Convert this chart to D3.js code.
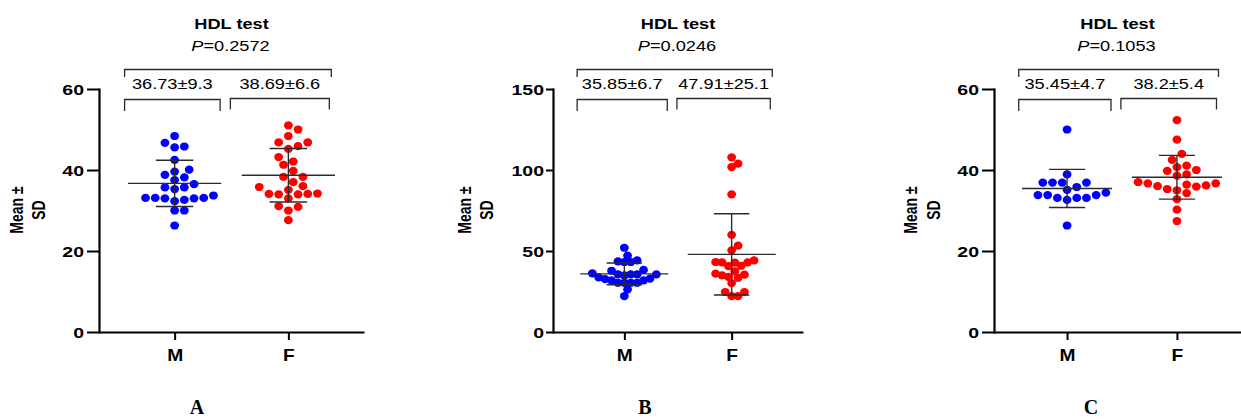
<!DOCTYPE html>
<html><head><meta charset="utf-8">
<script src="https://cdn.jsdelivr.net/npm/d3@7"></script>
<style>
html,body{margin:0;padding:0;background:#fff;}
svg{display:block;}
</style>
</head><body>
<svg id="c" width="1241" height="419"></svg>
<script>
// ---------------- data ----------------
const categories = ["M", "F"];
const panelLetters = ["A", "B", "C"];
const chartTitle = "HDL test";
const yLabelLines = ["Mean ±", "SD"];
const pValues = ["0.2572", "0.0246", "0.1053"];
const groupLabelsA = ["36.73±9.3", "38.69±6.6"];
const groupLabelsB = ["35.85±6.7", "47.91±25.1"];
const groupLabelsC = ["35.45±4.7", "38.2±5.4"];
const yTicksA = [0, 20, 40, 60];
const yTicksB = [0, 50, 100, 150];
const yTicksC = [0, 20, 40, 60];
const yMaxA = 60, yMaxB = 150, yMaxC = 60;

const valuesA_M = [48.4, 46.7, 45.8, 45.6, 42.5, 40.1, 39.6, 38.8, 38.2, 37.5, 36.5, 35.7, 35.3, 35.7, 33.7, 33.1, 33.0, 33.1, 33.0, 33.1, 32.3, 32.6, 30.0, 30.0, 26.3];
const valuesA_F = [51.0, 50.0, 48.4, 46.8, 46.8, 45.2, 45.9, 43.2, 42.1, 41.3, 39.8, 38.3, 38.3, 37.0, 36.0, 35.1, 35.8, 34.2, 34.1, 34.1, 34.0, 34.0, 33.0, 30.9, 31.1, 30.0, 27.6];
const valuesB_M = [52.0, 47.1, 44.2, 43.6, 43.2, 43.2, 38.3, 37.8, 35.6, 35.6, 35.6, 35.6, 36.2, 35.0, 32.7, 31.9, 33.7, 31.9, 32.9, 30.4, 30.4, 30.4, 30.4, 26.3, 22.2];
const valuesB_F = [107.8, 103.9, 101.8, 85.0, 60.0, 53.3, 50.4, 44.2, 43.0, 40.9, 43.2, 40.7, 43.0, 42.8, 37.5, 34.0, 35.0, 33.5, 35.4, 36.0, 30.2, 24.7, 24.7, 22.2, 22.2];
const valuesC_M = [50.0, 38.9, 36.9, 36.9, 36.9, 36.9, 35.8, 35.1, 34.4, 33.8, 33.8, 33.1, 33.1, 32.6, 33.1, 33.8, 26.3];
const valuesC_F = [52.3, 47.5, 44.0, 42.5, 40.0, 39.8, 41.1, 40.7, 38.9, 38.6, 36.7, 36.2, 36.4, 36.7, 37.0, 35.9, 36.0, 34.3, 35.3, 35.0, 32.8, 30.2, 27.4];

// mean and SD as drawn by the error bars
const barMeanA = [36.7, 38.7], barSDA = [5.7, 6.6];
const barMeanB = [35.85, 47.9], barSDB = [6.7, 25.1];
const barMeanC = [35.45, 38.2], barSDC = [4.7, 5.4];

const colors = ["#0000ff", "#ff0000"];

// ---------------- layout ----------------
const layout = [
  {x0: 99, x1: 364, tick: 12, gap: 3, ylx: [-81, -59], h: 4.85, Dx: 9.4, Dy: 8.2, letterX: 197},
  {x0: 553, x1: 803, tick: 7, gap: 2, ylx: [-87, -65], h: 3.2, Dx: 6.3, Dy: 7.0, letterX: 645},
  {x0: 994, x1: 1250, tick: 12, gap: 3, ylx: [-82, -59], h: 4.85, Dx: 9.4, Dy: 8.2, letterX: 1091}
];
const panels = [
  {vals: [valuesA_M, valuesA_F], means: barMeanA, sds: barSDA, labels: groupLabelsA, ticks: yTicksA, yMax: yMaxA},
  {vals: [valuesB_M, valuesB_F], means: barMeanB, sds: barSDB, labels: groupLabelsB, ticks: yTicksB, yMax: yMaxB},
  {vals: [valuesC_M, valuesC_F], means: barMeanC, sds: barSDC, labels: groupLabelsC, ticks: yTicksC, yMax: yMaxC}
];
const yTop = 89, yBot = 332, SX = 1.3;
const FONT = "'Liberation Sans', Arial, Helvetica, sans-serif";
const LINE = "#2b2b2b";

const svg = d3.select("#c");

function stext(g, x, y, str, size, weight, sx, anchor) {
  return g.append("text")
    .attr("transform", `translate(${x},${y}) scale(${sx},1)`)
    .attr("text-anchor", anchor || "middle")
    .attr("font-family", FONT)
    .attr("font-size", size)
    .attr("font-weight", weight)
    .attr("fill", "#000")
    .text(str);
}

function swarm(values, cx, y, h, Dx, Dy) {
  const order = values.map((v, i) => i).sort((a, b) => values[a] - values[b]);
  const placed = [];
  const xs = new Array(values.length);
  for (const i of order) {
    const py = y(values[i]);
    for (let k = 0; k < 400; k++) {
      const off = k === 0 ? 0 : (k % 2 ? Math.ceil(k / 2) : -Math.ceil(k / 2)) * h;
      const px = cx + off;
      if (placed.every(p => ((p.x - px) / Dx) ** 2 + ((p.y - py) / Dy) ** 2 >= 1)) {
        xs[i] = px; placed.push({x: px, y: py}); break;
      }
    }
  }
  return xs;
}

panels.forEach((P, pi) => {
  const L = layout[pi];
  const g = svg.append("g");
  const y = d3.scaleLinear().domain([0, P.yMax]).range([yBot, yTop]);
  const x = d3.scalePoint().domain(categories).range([L.x0, L.x1]).padding(0.665);
  const s = x.step();

  // y axis
  const ya = g.append("g").attr("transform", `translate(${L.x0},0)`)
    .call(d3.axisLeft(y).tickValues(P.ticks).tickSize(L.tick).tickSizeOuter(0).tickFormat(d3.format("d")));
  ya.select(".domain").attr("stroke", "#000").attr("stroke-width", 2.2).attr("stroke-linecap", "square");
  ya.selectAll(".tick line").attr("stroke", "#000").attr("stroke-width", 2);
  ya.selectAll(".tick text")
    .attr("x", 0).attr("dy", "0.36em")
    .attr("transform", `translate(${-(L.tick + L.gap)},0) scale(${SX},1)`)
    .attr("font-family", FONT).attr("font-size", 15).attr("font-weight", "bold").attr("fill", "#000");

  // x axis
  const xa = g.append("g").attr("transform", `translate(0,${yBot})`)
    .call(d3.axisBottom(x).tickSize(8).tickSizeOuter(0));
  xa.select(".domain").attr("stroke", "#000").attr("stroke-width", 2.2);
  xa.selectAll(".tick line").attr("stroke", "#000").attr("stroke-width", 2);
  xa.selectAll(".tick text")
    .attr("y", 0).attr("dy", null)
    .attr("transform", `translate(0,29) scale(1.2,1)`)
    .attr("font-family", FONT).attr("font-size", 16).attr("font-weight", "bold").attr("fill", "#000");

  // points
  categories.forEach((c, ci) => {
    const vals = P.vals[ci];
    const xs = swarm(vals, x(c), y, L.h, L.Dx, L.Dy);
    g.append("g").selectAll("ellipse").data(vals).join("ellipse")
      .attr("cx", (d, i) => xs[i]).attr("cy", d => y(d))
      .attr("rx", 4.4).attr("ry", 4.1).attr("fill", colors[ci]);
  });

  // mean & SD
  categories.forEach((c, ci) => {
    const cx = x(c), m = P.means[ci], sd = P.sds[ci];
    const eg = g.append("g").attr("stroke", LINE).attr("stroke-width", 1.4).attr("fill", "none");
    eg.append("line").attr("x1", cx).attr("x2", cx).attr("y1", y(m - sd)).attr("y2", y(m + sd));
    eg.append("line").attr("x1", cx - 0.165 * s).attr("x2", cx + 0.165 * s).attr("y1", y(m + sd)).attr("y2", y(m + sd));
    eg.append("line").attr("x1", cx - 0.165 * s).attr("x2", cx + 0.165 * s).attr("y1", y(m - sd)).attr("y2", y(m - sd));
    eg.append("line").attr("x1", cx - 0.41 * s).attr("x2", cx + 0.41 * s).attr("y1", y(m)).attr("y2", y(m));
  });

  // brackets
  const bM = [x("M") - 0.44 * s, x("M") + 0.40 * s];
  const bF = [x("F") - 0.51 * s, x("F") + 0.36 * s];
  const bg = g.append("g").attr("stroke", LINE).attr("stroke-width", 1.3).attr("fill", "none");
  const br = (a, b, top, bot) => bg.append("path").attr("d", `M${a},${bot}V${top}H${b}V${bot}`);
  br(bM[0], bM[1], 99.5, 111);
  br(bF[0], bF[1], 98.5, 109.5);
  br(bM[0], bF[1] + 2, 69.5, 77);

  stext(g, (bM[0] + bM[1]) / 2, 89, P.labels[0], 14, "normal", SX);
  stext(g, (bF[0] + bF[1]) / 2, 88.5, P.labels[1], 14, "normal", SX);

  const tc = (L.x0 + (pi === 2 ? 1241 : L.x1)) / 2;
  stext(g, tc, 29, chartTitle, 14, "bold", SX);
  const pt = stext(g, tc - 1, 51, "", 14, "normal", SX);
  pt.append("tspan").attr("font-style", "italic").text("P");
  pt.append("tspan").text("=" + pValues[pi]);

  // y label
  yLabelLines.forEach((t, li) => {
    g.append("text")
      .attr("transform", `translate(${L.x0 + L.ylx[li] + 5},210) scale(${SX},1) rotate(-90)`)
      .attr("text-anchor", "middle")
      .attr("font-family", FONT).attr("font-size", 14).attr("font-weight", "bold")
      .text(t);
  });

  // panel letter
  svg.append("text").attr("x", L.letterX).attr("y", 414).attr("text-anchor", "middle")
    .attr("font-family", "'Liberation Serif', 'Times New Roman', serif")
    .attr("font-size", 20).attr("font-weight", "bold").text(panelLetters[pi]);
});
</script>
</body></html>
